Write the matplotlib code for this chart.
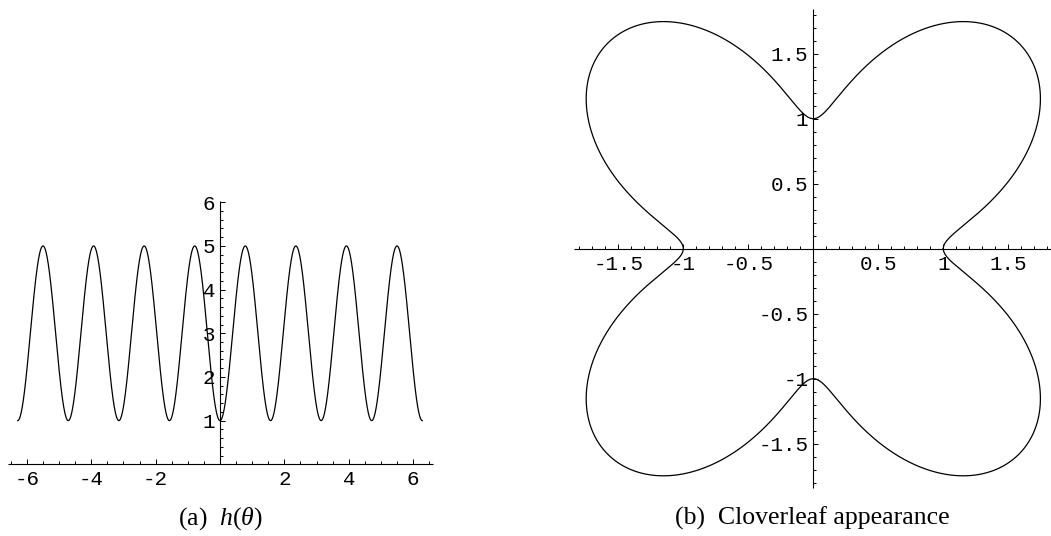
import numpy as np
import matplotlib
matplotlib.use("Agg")
import matplotlib.pyplot as plt
from matplotlib.ticker import FixedLocator, MultipleLocator, NullFormatter, FixedFormatter

# h(theta) = h_offset - h_amplitude * cos(h_lobes * theta)
h_offset = 3.0
h_amplitude = 2.0
h_lobes = 4
theta_start = -2 * np.pi
theta_stop = 2 * np.pi

# tick positions and labels
left_xticks = [-6, -4, -2, 2, 4, 6]
left_xticklabels = ["-6", "-4", "-2", "2", "4", "6"]
left_yticks = [1, 2, 3, 4, 5, 6]
left_yticklabels = ["1", "2", "3", "4", "5", "6"]
right_ticks = [-1.5, -1.0, -0.5, 0.5, 1.0, 1.5]
right_ticklabels = ["-1.5", "-1", "-0.5", "0.5", "1", "1.5"]
captions = ["(a)  $h(\\theta)$", "(b)  Cloverleaf appearance"]

plt.rcParams["mathtext.fontset"] = "custom"
plt.rcParams["mathtext.rm"] = "Liberation Serif"
plt.rcParams["mathtext.it"] = "Liberation Serif:italic"

TICK_FONT = dict(family="Liberation Mono", size=15)
CAPTION_SIZE = 18.5
W, H = 1051, 536
fig = plt.figure(figsize=(W / 100, H / 100), dpi=100)


def px_axes(x0, y_top, x1, y_bottom):
    return fig.add_axes([x0 / W, 1 - y_bottom / H, (x1 - x0) / W, (y_bottom - y_top) / H])


def style(ax, xticks, xlabels, yticks, ylabels, xminor, yminor):
    for side in ("top", "right"):
        ax.spines[side].set_visible(False)
    for side in ("left", "bottom"):
        ax.spines[side].set_position(("data", 0))
        ax.spines[side].set_linewidth(0.8)
        ax.spines[side].set_capstyle("butt")
    ax.xaxis.set_major_locator(FixedLocator(xticks))
    ax.xaxis.set_major_formatter(FixedFormatter(xlabels))
    ax.yaxis.set_major_locator(FixedLocator(yticks))
    ax.yaxis.set_major_formatter(FixedFormatter(ylabels))
    ax.xaxis.set_minor_locator(MultipleLocator(xminor))
    ax.yaxis.set_minor_locator(MultipleLocator(yminor))
    ax.xaxis.set_minor_formatter(NullFormatter())
    ax.yaxis.set_minor_formatter(NullFormatter())
    ax.tick_params(which="both", direction="in", color="black", width=0.7)
    ax.tick_params(which="major", length=3.4)
    ax.tick_params(which="minor", length=1.9)
    ax.tick_params(axis="x", which="major", pad=4.3)
    ax.tick_params(axis="y", which="major", pad=3.6)
    for lab in ax.get_xticklabels() + ax.get_yticklabels():
        lab.set_fontfamily(TICK_FONT["family"])
        lab.set_fontsize(TICK_FONT["size"])
    ax.patch.set_visible(False)


theta = np.linspace(theta_start, theta_stop, 4001)
h = h_offset - h_amplitude * np.cos(h_lobes * theta)

# (a) the function h(theta)
ax1 = px_axes(7.5, 200.5, 432.5, 464.3)
ax1.plot(theta, h, color="black", lw=0.9)
ax1.set_xlim(-6.6, 6.6)
ax1.set_ylim(0, 6.04)
style(ax1, left_xticks, left_xticklabels, left_yticks, left_yticklabels, 0.5, 0.2)

# (b) polar curve with radius sqrt(h)
phi = np.linspace(0, 2 * np.pi, 4001)
r = np.sqrt(h_offset - h_amplitude * np.cos(h_lobes * phi))
ax2 = px_axes(813.3 - 1.84 * 130, 248.7 - 1.84 * 130, 813.3 + 1.84 * 130, 248.7 + 1.84 * 130)
ax2.plot(r * np.cos(phi), r * np.sin(phi), color="black", lw=0.9)
ax2.set_xlim(-1.84, 1.84)
ax2.set_ylim(-1.84, 1.84)
style(ax2, right_ticks, right_ticklabels, right_ticks, right_ticklabels, 0.1, 0.1)

fig.text(220 / W, 1 - 518.5 / H, captions[0], ha="center", va="center",
         family="Liberation Serif", fontsize=CAPTION_SIZE)
fig.text(812 / W, 1 - 518.5 / H, captions[1], ha="center", va="center",
         family="Liberation Serif", fontsize=CAPTION_SIZE)

fig.savefig("out.png", dpi=100)
